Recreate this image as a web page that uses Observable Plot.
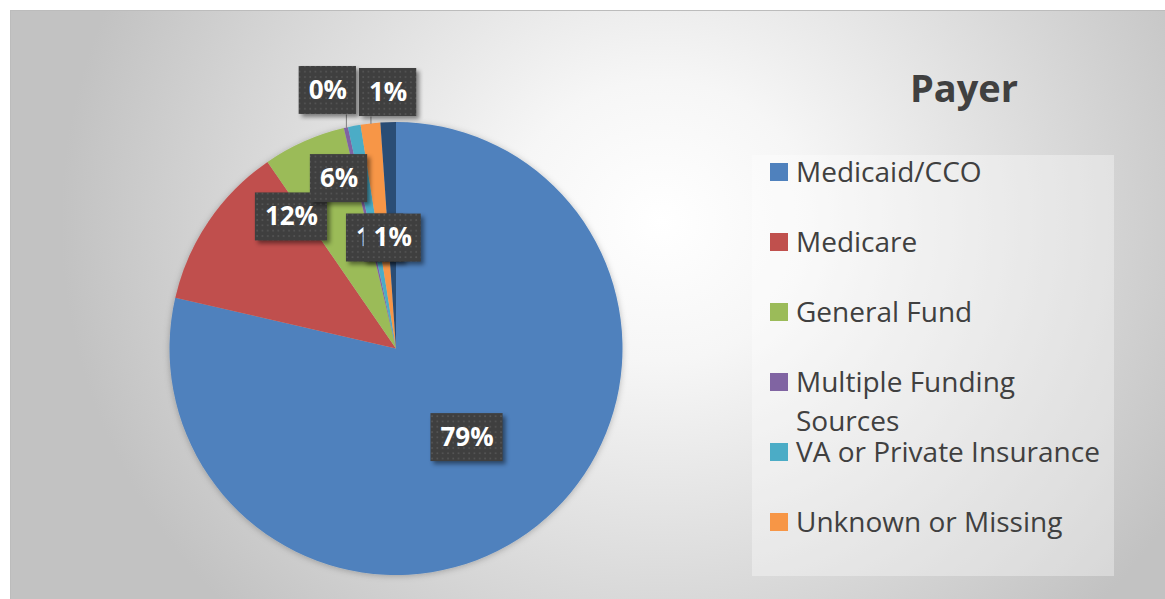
<!DOCTYPE html>
<html>
<head>
<meta charset="utf-8">
<script src="https://cdn.jsdelivr.net/npm/d3@7"></script>
<script src="https://cdn.jsdelivr.net/npm/@observablehq/plot@0.6"></script>
<style>
  html, body { margin: 0; padding: 0; background: #ffffff; }
  #wrap { position: relative; width: 1165px; height: 599px; overflow: hidden; background: #ffffff; font-family: "Open Sans", sans-serif; }
  #bg { position: absolute; left: 10px; top: 10px; width: 1160px; height: 595px;
        border-left: 1px solid #bcbcbc; border-top: 1px solid #bcbcbc;
        background: radial-gradient(ellipse 600px 560px at 650px 210px, #ffffff 0%, #f6f6f6 25%, #dedede 60%, #c2c2c2 100%); }
  #chart { position: absolute; left: 0; top: 0; }
  #title { position: absolute; left: 864px; top: 68px; width: 200px; text-align: center; font-size: 38px; line-height: 38px; font-weight: bold; color: #404040; }
  #legendBox { position: absolute; left: 752px; top: 155px; width: 362px; height: 421px; background: rgba(255,255,255,0.35); }
  .item { position: absolute; left: 44px; width: 318px; font-size: 28px; line-height: 39px; color: #404040; }
  .sw { position: absolute; left: -26px; top: 11.5px; width: 17.5px; height: 17.5px; }
</style>
</head>
<body>
<div id="wrap">
  <div id="bg"></div>
  <div id="chart"></div>
  <div id="title">Payer</div>
  <div id="legendBox"></div>
</div>
<script>
// ---- data ----
const payers = ["Medicaid/CCO", "Medicare", "General Fund", "Multiple Funding Sources", "VA or Private Insurance", "Unknown or Missing", "Other"];
const shares = [78.6, 11.8, 5.9, 0.3, 0.9, 1.4, 1.1];
const colors = ["#4F81BD", "#C0504D", "#9BBB59", "#8064A2", "#4BACC6", "#F79646", "#2C4D75"];
const legendTitle = "Payer";
const legendCount = 6; // legend is clipped after six entries

// ---- layout ----
const W = 1165, H = 599, CX = 396, CY = 348.5, R = 226.5;
const labelShiftDeg = [0, 17.3, 5.3, -2.1, -0.3, 4.6, 0];
const labelRadius = [0.50, 0.745, 0.794, 1.181, 0.499, 1.133, 0.49];
const labelFont = 26, boxH = 48, boxPad = 19;

const data = payers.map((p, i) => ({payer: p, share: shares[i]}));
const arcs = d3.pie().sort(null).value(d => d.share).startAngle(0).endAngle(2 * Math.PI)(data);

const ctx = document.createElement("canvas").getContext("2d");
ctx.font = `bold ${labelFont}px "Open Sans"`;

const labels = arcs.map((a, i) => {
  const mid = (a.startAngle + a.endAngle) / 2;
  const ang = mid + labelShiftDeg[i] * Math.PI / 180;
  const rf = labelRadius[i];
  const text = Math.round(a.data.share) + "%";
  const wpx = ctx.measureText(text).width + boxPad;
  return {x: Math.sin(ang) * rf, y: Math.cos(ang) * rf, text, hw: wpx / 2 / R, hh: boxH / 2 / R, mid, outside: rf > 1};
});

const defs = () => {
  const d = d3.create("svg:defs");
  const p = d.append("pattern").attr("id", "dots").attr("width", 5.3).attr("height", 5.3).attr("patternUnits", "userSpaceOnUse");
  p.append("rect").attr("width", 5.3).attr("height", 5.3).attr("fill", "#3f3f3f");
  p.append("rect").attr("x", 2).attr("y", 2).attr("width", 1.6).attr("height", 1.6).attr("fill", "#575757");
  const f = d.append("filter").attr("id", "pieShadow").attr("x", "-10%").attr("y", "-10%").attr("width", "120%").attr("height", "120%");
  f.append("feDropShadow").attr("dx", 0).attr("dy", 1).attr("stdDeviation", 3).attr("flood-color", "#000").attr("flood-opacity", 0.25);
  return d.node();
};

const labelMarks = labels.flatMap(l => [
  Plot.rect([l], {x1: d => d.x - d.hw, x2: d => d.x + d.hw, y1: d => d.y - d.hh, y2: d => d.y + d.hh,
                  fill: "url(#dots)", imageFilter: "drop-shadow(3px 3px 2px rgba(0,0,0,0.45))"}),
  Plot.text([l], {x: "x", y: "y", text: "text", fill: "white", fontSize: labelFont, fontWeight: "bold", fontFamily: "Open Sans"})
]);

const plot = Plot.plot({
  width: W, height: H, margin: 0,
  x: {domain: [-CX / R, (W - CX) / R], range: [0, W], axis: null},
  y: {domain: [(CY - H) / R, CY / R], range: [H, 0], axis: null},
  color: {domain: payers, range: colors},
  style: {background: "transparent", overflow: "visible"},
  marks: [
    defs,
    Plot.dot(arcs, {
      x: () => 0, y: () => 0, fill: d => d.data.payer,
      render(index, scales, values) {
        const cx = scales.x(0), cy = scales.y(0), r = scales.x(1) - scales.x(0);
        const g = d3.create("svg:g").attr("filter", "url(#pieShadow)").attr("transform", `translate(${cx},${cy})`);
        const arc = d3.arc().innerRadius(0).outerRadius(r);
        for (const i of index) {
          g.append("path").attr("d", arc(arcs[i])).attr("fill", values.fill[i]);
        }
        return g.node();
      }
    }),
    Plot.link(labels.filter(d => d.outside), {
      x1: d => Math.sin(d.mid), y1: d => Math.cos(d.mid),
      x2: d => Math.sin(d.mid), y2: d => d.y - d.hh,
      stroke: "#7f7f7f", strokeWidth: 1
    }),
    ...labelMarks
  ]
});
document.getElementById("chart").appendChild(plot);
document.getElementById("title").textContent = legendTitle;

const color = plot.scale("color");
const box = document.getElementById("legendBox");
payers.slice(0, legendCount).forEach((p, i) => {
  const it = document.createElement("div");
  it.className = "item";
  it.style.top = (-3.4 + 70 * i) + "px";
  const sw = document.createElement("div");
  sw.className = "sw";
  sw.style.background = color.apply(p);
  it.appendChild(sw);
  it.appendChild(document.createTextNode(p));
  box.appendChild(it);
});
</script>
</body>
</html>
